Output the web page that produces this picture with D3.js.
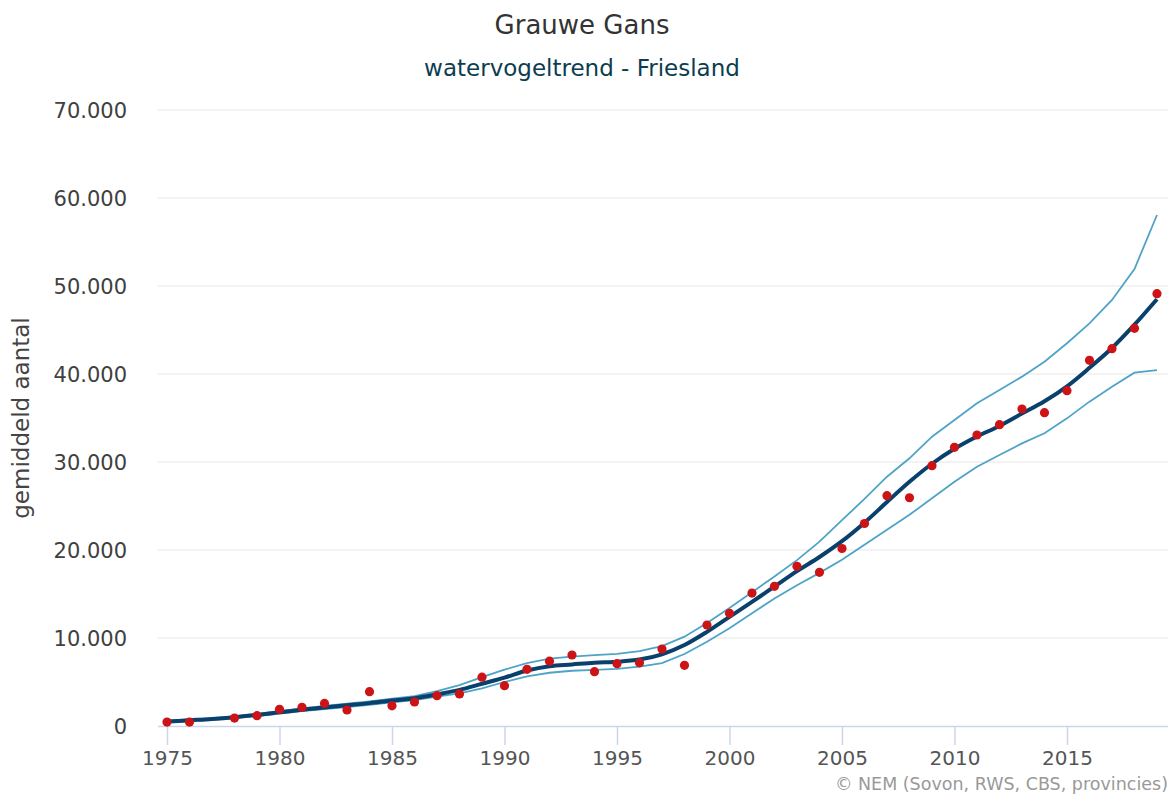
<!DOCTYPE html>
<html>
<head>
<meta charset="utf-8">
<script src="https://cdn.jsdelivr.net/npm/d3@7"></script>
<style>
  html, body { margin: 0; padding: 0; background: #fff; }
  svg { display: block; font-family: "DejaVu Sans", sans-serif; }
</style>
</head>
<body>
<svg id="chart" width="1175" height="794"></svg>
<script>
const years = d3.range(1975, 2020);
const trend = [500,650,800,1000,1250,1550,1850,2100,2350,2600,2900,3150,3600,4100,4800,5500,6300,6800,7000,7200,7300,7550,8150,9200,10700,12400,14100,15850,17600,19200,21000,23100,25450,27750,29800,31500,32900,34100,35500,36900,38600,40700,42950,45600,48500];
const upper = [600,750,900,1100,1380,1700,2000,2280,2550,2800,3100,3400,3950,4650,5550,6400,7150,7650,7880,8050,8200,8500,9080,10150,11700,13400,15200,17000,18850,20950,23400,25800,28330,30420,32880,34770,36670,38180,39700,41400,43490,45760,48410,51930,58070];
const lower = [400,550,700,900,1130,1420,1700,1930,2160,2400,2700,2950,3330,3710,4280,5000,5650,6050,6280,6380,6500,6740,7150,8180,9580,11100,12800,14500,16000,17400,18900,20600,22300,24000,25870,27760,29470,30800,32120,33260,34960,36860,38560,40150,40450];
const countYears = [1975,1976,1978,1979,1980,1981,1982,1983,1984,1985,1986,1987,1988,1989,1990,1991,1992,1993,1994,1995,1996,1997,1998,1999,2000,2001,2002,2003,2004,2005,2006,2007,2008,2009,2010,2011,2012,2013,2014,2015,2016,2017,2018,2019];
const counts = [450,450,900,1170,1900,2120,2570,1820,3900,2290,2730,3450,3650,5550,4580,6440,7370,8070,6170,7080,7180,8750,6890,11480,12800,15110,15870,18140,17460,20170,23010,26170,25940,29580,31670,33070,34240,36020,35610,38110,41550,42880,45190,49130];
const yTicks = [0,10000,20000,30000,40000,50000,60000,70000];
const xTicks = [1975,1980,1985,1990,1995,2000,2005,2010,2015];

const svg = d3.select("#chart");
const pLeft = 158, pRight = 1168, pTop = 110, pBottom = 726;

const x = d3.scaleLinear().domain([1974.6, 2019.49]).range([pLeft, pRight]);
const y = d3.scaleLinear().domain([0, 70000]).range([pBottom, pTop]);
const fmt = v => d3.format(",")(v).replace(/,/g, ".");

// gridlines
svg.append("g").selectAll("line").data(yTicks.filter(d => d > 0)).join("line")
  .attr("x1", pLeft).attr("x2", pRight)
  .attr("y1", d => y(d)).attr("y2", d => y(d))
  .attr("stroke", "#e6e6e6").attr("stroke-width", 1);

// y axis labels
const yAxis = svg.append("g").attr("transform", `translate(${pLeft},0)`)
  .call(d3.axisLeft(y).tickValues(yTicks).tickFormat(fmt).tickSize(0).tickPadding(31));
yAxis.select(".domain").remove();
yAxis.selectAll("text").attr("font-size", 21).attr("fill", "#404040")
  .attr("font-family", "DejaVu Sans, sans-serif").attr("dy", "0.36em");

// x axis
const xAxis = svg.append("g").attr("transform", `translate(0,${pBottom})`)
  .call(d3.axisBottom(x).tickValues(xTicks).tickFormat(d3.format("d")).tickSize(19).tickSizeOuter(0).tickPadding(2));
xAxis.select(".domain").attr("stroke", "#ccd6eb").attr("stroke-width", 1.5).attr("d", `M${pLeft},0.5H${pRight}`);
xAxis.selectAll(".tick line").attr("stroke", "#ccd6eb").attr("stroke-width", 1.5);
xAxis.selectAll("text").attr("font-size", 20).attr("fill", "#555")
  .attr("font-family", "DejaVu Sans, sans-serif").attr("y", 39).attr("dy", 0);

// lines
const line = d3.line().x((d, i) => x(years[i])).y(d => y(d));
svg.append("path").datum(upper).attr("d", line).attr("fill", "none")
  .attr("stroke", "#4fa3c7").attr("stroke-width", 1.8);
svg.append("path").datum(lower).attr("d", line).attr("fill", "none")
  .attr("stroke", "#4fa3c7").attr("stroke-width", 1.8);
svg.append("path").datum(trend).attr("d", line.curve(d3.curveMonotoneX)).attr("fill", "none")
  .attr("stroke", "#0a406c").attr("stroke-width", 4).attr("stroke-linejoin", "round");

// points
svg.append("g").selectAll("circle").data(counts).join("circle")
  .attr("cx", (d, i) => x(countYears[i])).attr("cy", d => y(d)).attr("r", 4.6)
  .attr("fill", "#cc1417");

// titles
svg.append("text").attr("x", 582).attr("y", 34).attr("text-anchor", "middle")
  .attr("font-size", 26).attr("fill", "#333").text("Grauwe Gans");
svg.append("text").attr("x", 582).attr("y", 76).attr("text-anchor", "middle")
  .attr("font-size", 23).attr("fill", "#0c3d4f").text("watervogeltrend - Friesland");
svg.append("text").attr("transform", `translate(29,${(pTop + pBottom) / 2}) rotate(-90)`)
  .attr("text-anchor", "middle").attr("font-size", 23).attr("fill", "#444").text("gemiddeld aantal");
svg.append("text").attr("x", 1168).attr("y", 790).attr("text-anchor", "end")
  .attr("font-size", 17.5).attr("fill", "#999").text("© NEM (Sovon, RWS, CBS, provincies)");
</script>
</body>
</html>
